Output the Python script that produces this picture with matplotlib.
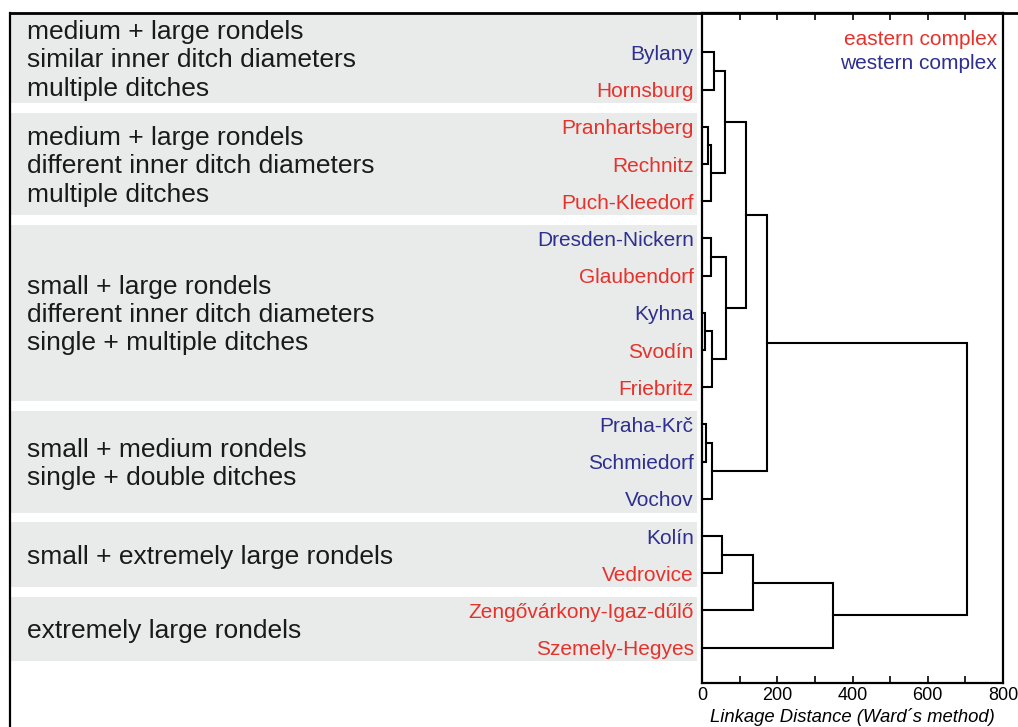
"""Ward dendrogram of rondel enclosures, grouped by rondel size class."""

import matplotlib

matplotlib.use("Agg")
import matplotlib.pyplot as plt  # noqa: E402
from matplotlib.lines import Line2D  # noqa: E402
from matplotlib.patches import Rectangle  # noqa: E402
from matplotlib.transforms import blended_transform_factory  # noqa: E402

plt.rcParams["font.family"] = ["Liberation Sans", "DejaVu Sans"]

EAST = "#e5322b"
WEST = "#2f2f8f"
BAND = "#e9eaea"

# leaves, top to bottom
sites = [
    "Bylany", "Hornsburg", "Pranhartsberg", "Rechnitz", "Puch-Kleedorf",
    "Dresden-Nickern", "Glaubendorf", "Kyhna", "Svodín", "Friebritz",
    "Praha-Krč", "Schmiedorf", "Vochov", "Kolín", "Vedrovice",
    "Zengővárkony-Igaz-dűlő", "Szemely-Hegyes",
]
complex_ = [
    "west", "east", "east", "east", "east",
    "west", "east", "west", "east", "east",
    "west", "west", "west", "west", "east",
    "east", "east",
]

# merges: ids >= len(sites) are earlier merges, in order
merge_a = [0, 2, 18, 17, 5, 7, 22, 21, 20, 10, 26, 25, 13, 29, 30, 28]
merge_b = [1, 3, 4, 19, 6, 8, 9, 23, 24, 11, 12, 27, 14, 15, 16, 31]
merge_height = [32, 17, 24, 62, 24, 8, 27, 64, 117, 11, 27, 174, 53, 136, 347, 703]

group_labels = [
    "medium + large rondels\nsimilar inner ditch diameters\nmultiple ditches",
    "medium + large rondels\ndifferent inner ditch diameters\nmultiple ditches",
    "small + large rondels\ndifferent inner ditch diameters\nsingle + multiple ditches",
    "small + medium rondels\nsingle + double ditches",
    "small + extremely large rondels",
    "extremely large rondels",
]
group_first = [0, 2, 5, 10, 13, 15]
group_last = [1, 4, 9, 12, 14, 16]

W, H = 1018, 727
fig = plt.figure(figsize=(W / 100, H / 100), dpi=100)
ax = fig.add_axes([702 / W, 1 - 683 / H, 301 / W, 670 / H])

# dendrogram
ypos = {i: float(i) for i in range(len(sites))}
xpos = {i: 0.0 for i in range(len(sites))}
for k, (a, b, h) in enumerate(zip(merge_a, merge_b, merge_height)):
    ax.plot([xpos[a], h, h, xpos[b]], [ypos[a], ypos[a], ypos[b], ypos[b]],
            color="black", lw=1.5, solid_joinstyle="miter", clip_on=False)
    node = len(sites) + k
    ypos[node] = (ypos[a] + ypos[b]) / 2
    xpos[node] = h

top, bottom = -1.06, 16.95
ax.set_ylim(bottom, top)
ax.set_xlim(0, 800)
ax.set_xticks(range(0, 801, 100))
ax.set_xticklabels([str(v) if v % 200 == 0 else "" for v in range(0, 801, 100)])
ax.tick_params(axis="x", direction="in", length=5, width=1.2, top=True,
               labelsize=13, pad=3)
ax.set_yticks(range(len(sites)))
ax.set_yticklabels(sites, fontsize=15)
ax.tick_params(axis="y", length=0, pad=6)
for lab, c in zip(ax.get_yticklabels(), complex_):
    lab.set_color(EAST if c == "east" else WEST)
for sp in ax.spines.values():
    sp.set_linewidth(1.6)
ax.set_xlabel("Linkage Distance (Ward´s method)", fontsize=13.3,
              style="italic", labelpad=3)

ax.text(0.98, 0.961, "eastern complex", transform=ax.transAxes, ha="right",
        va="center", fontsize=15, color=EAST)
ax.text(0.98, 0.925, "western complex", transform=ax.transAxes, ha="right",
        va="center", fontsize=15, color=WEST)

# grey group bands left of the dendrogram
trans = blended_transform_factory(fig.transFigure, ax.transData)
gap = 0.13
for i, (label, first, last) in enumerate(zip(group_labels, group_first, group_last)):
    y0 = top if i == 0 else first - 0.5 + gap
    y1 = last + 0.5 - gap
    ax.add_patch(Rectangle((11 / W, y0), 686 / W, y1 - y0, transform=trans,
                           facecolor=BAND, edgecolor="none", clip_on=False, zorder=0))
    ax.text(27 / W, (y0 + y1) / 2 + 0.06, label, transform=trans, ha="left",
            va="center", fontsize=19, linespacing=1.23, color="#1a1a1a")

# outer frame
fig.add_artist(Line2D([10 / W, 10 / W], [0, 1 - 13 / H], color="black", lw=1.6,
                      transform=fig.transFigure))
fig.add_artist(Line2D([10 / W, 1], [1 - 13 / H, 1 - 13 / H], color="black", lw=2,
                      transform=fig.transFigure))

fig.savefig("out.png", dpi=100)
